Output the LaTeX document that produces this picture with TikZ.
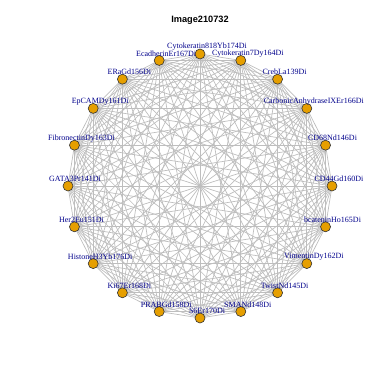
\documentclass[tikz,border=0pt]{standalone}
\usepackage{fontspec}
\setmainfont{Liberation Serif}
\newfontfamily\titlefont{Liberation Sans}
\usepackage{xcolor}
\usetikzlibrary{backgrounds}
\definecolor{vtxorange}{RGB}{230,159,0}
\definecolor{lbldarkblue}{RGB}{0,0,139}
\definecolor{edgegray}{RGB}{190,190,190}
\tikzset{
  vtx/.style={circle, draw=black!80, line width=0.6pt, fill=vtxorange,
              minimum size=10pt, inner sep=0pt},
  lbl/.style={font=\fontsize{8}{9}\selectfont, text=lbldarkblue, inner sep=0pt},
  edg/.style={draw=edgegray, line width=0.7pt},
  ttl/.style={font=\titlefont\bfseries\fontsize{9.2}{11}\selectfont},
}

\begin{document}
\begin{tikzpicture}[x=1pt, y=-1pt]
  \useasboundingbox (0,0) rectangle (382,382);
  \node[ttl] (title) at (200,20) {Image210732};
  \foreach \name [count=\i] in {Cytokeratin818Yb174Di, Cytokeratin7Dy164Di, CrebLa139Di,
      CarbonicAnhydraseIXEr166Di, CD68Nd146Di, CD44Gd160Di, bcateninHo165Di,
      VimentinDy162Di, TwistNd145Di, SMANd148Di, S6Er170Di, PRABGd158Di,
      Ki67Er168Di, HistoneH3Yb176Di, Her2Eu151Di, GATA3Pr141Di,
      FibronectinDy163Di, EpCAMDy161Di, ERaGd156Di, EcadherinEr167Di} {
    \pgfmathsetmacro{\ang}{90-18*(\i-1)}
    \node[vtx] (v\i) at ({200+132*cos(\ang)},{186-132*sin(\ang)}) {};
    \node[lbl] (l\i) at ([shift={(7,-7)}]v\i) {\name};
  }
  \begin{scope}[on background layer]
    \foreach \i in {1,...,19} {
      \pgfmathtruncatemacro{\k}{\i+1}
      \foreach \j in {\k,...,20}
        \draw[edg] (v\i.center) -- (v\j.center);
    }
  \end{scope}
\end{tikzpicture}
\end{document}
